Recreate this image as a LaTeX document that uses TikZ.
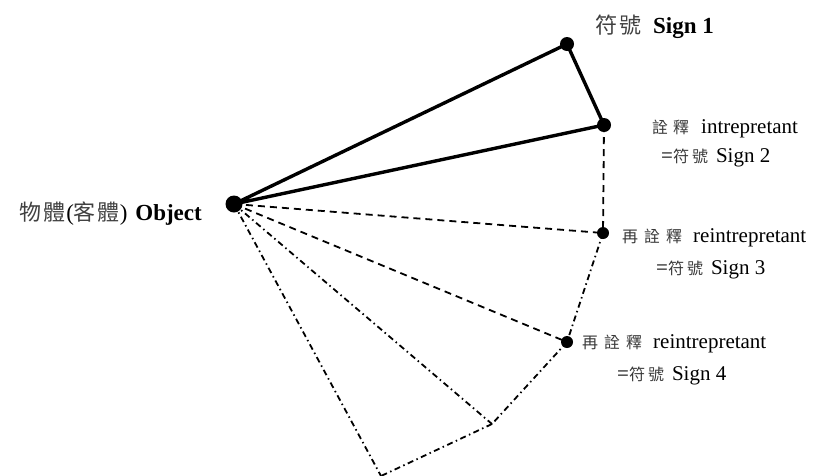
\documentclass[tikz,border=0pt]{standalone}
\usepackage{fontspec}
\setmainfont{Liberation Serif}
\newfontfamily\cjk{Noto Sans CJK TC}
\newcommand\bigcjk[1]{{\cjk\fontsize{22}{22}\selectfont\color{black!75}#1}}
\newcommand\smcjk[1]{{\cjk\fontsize{16}{16}\selectfont\color{black!78}#1}}
\begin{document}
\begin{tikzpicture}[x=1pt,y=-1pt,
  dot/.style={circle,fill=black,inner sep=0pt,minimum size=#1},
  solidline/.style={line width=3.4pt,line cap=round,line join=round},
  dashline/.style={line width=1.8pt,dash pattern=on 7pt off 5pt},
  dashdotline/.style={line width=1.8pt,dash pattern=on 6pt off 3.5pt on 1.5pt off 3.5pt},
  lbl/.style={inner sep=0pt,anchor=base west,font=\fontsize{21}{24}\selectfont},
  biglbl/.style={inner sep=0pt,anchor=base west,font=\fontsize{23}{26}\selectfont}]
\useasboundingbox (0,0) rectangle (813,475);
\node[dot=17pt] (O) at (234,204) {};
\node[dot=14pt] (S1) at (567,44) {};
\node[dot=14pt] (S2) at (604,125) {};
\node[dot=12pt] (S3) at (603,233) {};
\node[dot=12pt] (S4) at (567,342) {};
\coordinate (P5) at (492,424);
\coordinate (P6) at (381,476);
% solid triangle
\draw[solidline] (O.center) -- (S1.center) -- (S2.center) -- cycle;
% dashed
\draw[dashline] (S2.center) -- (S3.center);
\draw[dashline] (O.center) -- (S3.center);
\draw[dashline] (O.center) -- (S4.center);
% dash-dot
\draw[dashdotline] (S3.center) -- (S4.center);
\draw[dashdotline] (S4.center) -- (P5);
\draw[dashdotline] (O.center) -- (P5);
\draw[dashdotline] (P5) -- (P6);
\draw[dashdotline] (O.center) -- (P6);
% labels
\node[biglbl,anchor=base east] (tO) at (202,220) {\bigcjk{物\hspace{2pt}體}\hspace{1pt}(\bigcjk{客\hspace{2pt}體})\hspace{2pt} \textbf{Object}};
\node[biglbl] (t1) at (595,33) {\bigcjk{符\hspace{2pt}號}\hspace{12pt}\textbf{Sign 1}};
\node[lbl] (t2a) at (652,133) {\smcjk{詮\hspace{5pt}釋}\hspace{12pt}intrepretant};
\node[lbl] (t2b) at (661,162) {=\smcjk{符\hspace{3pt}號}\hspace{8pt}Sign 2};
\node[lbl] (t3a) at (622,242) {\smcjk{再\hspace{6pt}詮\hspace{6pt}釋}\hspace{11pt}reintrepretant};
\node[lbl] (t3b) at (656,274) {=\smcjk{符\hspace{3pt}號}\hspace{8pt}Sign 3};
\node[lbl] (t4a) at (582,348) {\smcjk{再\hspace{6pt}詮\hspace{6pt}釋}\hspace{11pt}reintrepretant};
\node[lbl] (t4b) at (617,380) {=\smcjk{符\hspace{3pt}號}\hspace{8pt}Sign 4};
\end{tikzpicture}
\end{document}
